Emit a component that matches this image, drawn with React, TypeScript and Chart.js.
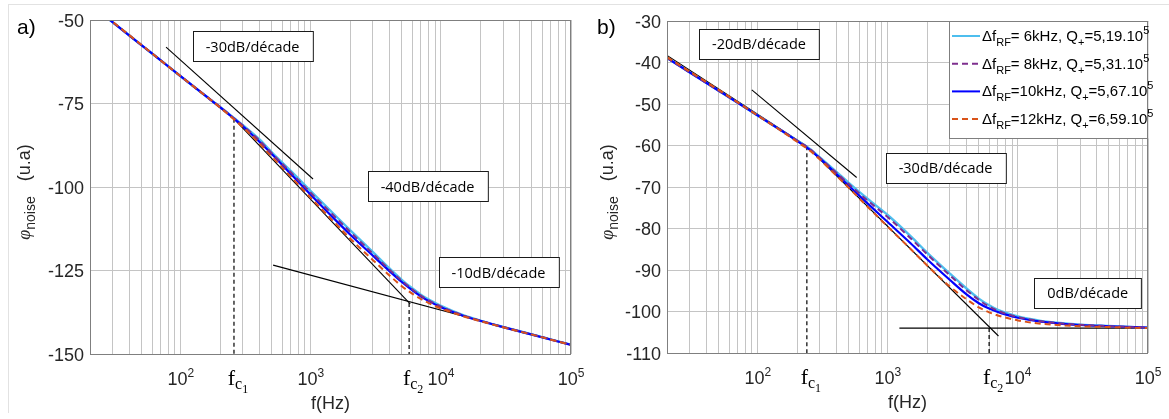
import React, { useEffect, useRef } from "react";
import { Chart, registerables } from "chart.js";
Chart.register(...registerables);

// ---------- data ----------
const freqs = [20, 30, 50, 70, 100, 150, 200, 250, 300, 400, 500, 700, 1000, 1500, 2000, 3000, 4000, 5000, 6000, 7000, 8000, 10000, 15000, 20000, 30000, 50000, 100000];

// panel a)
const a6k = [-45.3, -50.7, -57.6, -62.1, -66.9, -72.3, -76.0, -79.0, -81.5, -85.7, -89.6, -95.2, -101.3, -108.1, -112.9, -119.5, -124.3, -127.8, -130.3, -132.25, -133.65, -135.6, -138.45, -140.0, -141.9, -144.15, -147.2];
const a8k = [-45.3, -50.7, -57.6, -62.1, -66.9, -72.3, -76.0, -79.1, -81.6, -86.0, -89.9, -95.6, -101.8, -108.6, -113.4, -120.0, -124.7, -128.1, -130.6, -132.5, -133.9, -135.8, -138.5, -140.0, -141.9, -144.15, -147.2];
const a10k = [-45.3, -50.7, -57.6, -62.1, -66.9, -72.3, -76.1, -79.2, -81.8, -86.4, -90.1, -96.1, -102.4, -109.4, -114.2, -120.6, -125.1, -128.45, -130.9, -132.75, -134.1, -136.0, -138.6, -140.05, -141.95, -144.2, -147.3];
const a12k = [-45.2, -50.6, -57.5, -62.1, -66.9, -72.3, -76.2, -79.4, -82.1, -86.9, -90.9, -96.9, -103.3, -110.4, -115.4, -121.9, -126.4, -129.7, -131.9, -133.5, -134.7, -136.35, -138.75, -140.15, -142.0, -144.2, -147.3];

// panel b)
const b6k = [-38.9, -42.4, -46.8, -49.7, -52.8, -56.3, -58.8, -60.8, -62.9, -66.3, -69.0, -72.9, -76.8, -81.9, -85.8, -90.9, -94.4, -96.9, -98.5, -99.6, -100.3, -101.2, -102.25, -102.7, -103.15, -103.5, -103.9];
const b8k = [-38.9, -42.4, -46.8, -49.7, -52.8, -56.3, -58.8, -60.8, -63.0, -66.5, -69.3, -73.3, -77.3, -82.4, -86.2, -91.3, -94.8, -97.2, -98.8, -99.8, -100.5, -101.35, -102.35, -102.8, -103.2, -103.55, -103.9];
const b10k = [-38.9, -42.4, -46.8, -49.7, -52.8, -56.3, -58.9, -61.0, -63.1, -66.8, -69.7, -74.0, -78.5, -83.6, -87.4, -92.4, -95.8, -98.0, -99.3, -100.1, -100.7, -101.5, -102.45, -102.85, -103.25, -103.55, -103.9];
const b12k = [-38.7, -42.2, -46.6, -49.6, -52.8, -56.4, -59.1, -61.2, -63.4, -67.2, -70.2, -74.8, -79.6, -85.0, -88.9, -94.0, -97.0, -99.0, -100.2, -100.95, -101.45, -102.15, -102.95, -103.25, -103.55, -103.75, -104.0];

// asymptotes / construction lines  [x1, x2], [y1, y2]
const aLow30X = [20, 256], aLow30Y = [-45.3, -79.6];
const aTangX = [76.9, 1038], aTangY = [-58.1, -97.6];
const aMid40X = [256, 5800], aMid40Y = [-79.6, -135.0];
const aHigh10X = [512, 100000], aHigh10Y = [-123.4, -147.3];
const aFc = [256, 5690];
const aFcY = [-79.6, -134.7];

const bLow20X = [20, 238], bLow20Y = [-38.3, -60.2];
const bTangX = [89.8, 575], bTangY = [-46.6, -67.7];
const bMid30X = [238, 7080], bMid30Y = [-60.2, -105.9];
const bFlatX = [1225, 100000], bFlatY = [-104, -104];
const bFc = [238, 6000];
const bFcY = [-60.2, -104];

// legend
const dfLabels = [" 6kHz", " 8kHz", "10kHz", "12kHz"];
const qLabels = ["5,19", "5,31", "5,67", "6,59"];
const qExp = "5";

// axis ticks
const gridFreqs = [20, 30, 40, 50, 60, 70, 80, 90, 100, 200, 300, 400, 500, 600, 700, 800, 900, 1000, 2000, 3000, 4000, 5000, 6000, 7000, 8000, 9000, 10000, 20000, 30000, 40000, 50000, 60000, 70000, 80000, 90000, 100000];
const decadeTicks = [100, 1000, 10000, 100000];
const decadeExp = ["2", "3", "4", "5"];

// annotations [text, freq, value]
const aNotes: [string, number, number][] = [
  ["-30dB/décade", 356, -57.8],
  ["-40dB/décade", 7890, -99.85],
  ["-10dB/décade", 27700, -125.45],
];
const bNotes: [string, number, number][] = [
  ["-20dB/décade", 102, -35.5],
  ["-30dB/décade", 2775, -65.4],
  ["0dB/décade", 34400, -95.5],
];

// ---------- styles ----------
const C_CYAN = "#4DBEEE";
const C_PURPLE = "#7E2F8E";
const C_BLUE = "#0000FF";
const C_ORANGE = "#D95319";
const SANS = '"Liberation Sans", Arial, sans-serif';
const SERIF = '"Liberation Serif", "Times New Roman", serif';
const BOXFONT = '"Open Sans", sans-serif';
const TXT = "#262626";

type Part = { t: string; size: number; dy?: number; family?: string; style?: string };

function fontOf(p: Part) {
  return `${p.style || ""} ${p.size}px ${p.family || SANS}`.trim();
}
function richWidth(ctx: CanvasRenderingContext2D, parts: Part[]) {
  let w = 0;
  for (const p of parts) {
    ctx.font = fontOf(p);
    w += ctx.measureText(p.t).width;
  }
  return w;
}
function drawRich(ctx: CanvasRenderingContext2D, x: number, y: number, parts: Part[], align: "left" | "center" | "right", color: string) {
  const w = richWidth(ctx, parts);
  let cx = align === "left" ? x : align === "center" ? x - w / 2 : x - w;
  ctx.fillStyle = color;
  ctx.textAlign = "left";
  ctx.textBaseline = "alphabetic";
  for (const p of parts) {
    ctx.font = fontOf(p);
    ctx.fillText(p.t, cx, y + (p.dy || 0));
    cx += ctx.measureText(p.t).width;
  }
}

function pts(xs: number[], ys: number[]) {
  return xs.map((x, i) => ({ x, y: ys[i] }));
}

type Spec = {
  left: number;
  w: number;
  pad: { left: number; top: number; right: number; bottom: number };
  ymin: number;
  ymax: number;
  ystep: number;
  label: string;
  labelX: number;
  ytitleX: number;
  fc: number[];
  fcY: number[];
  notes: [string, number, number][];
  series: number[][];
  lines: { x: number[]; y: number[] }[];
  legend: boolean;
};

const panelA: Spec = {
  left: 0,
  w: 585,
  pad: { left: 90, top: 20, right: 14, bottom: 65 },
  ymin: -150,
  ymax: -50,
  ystep: 25,
  label: "a)",
  labelX: 17,
  ytitleX: 30,
  fc: aFc,
  fcY: aFcY,
  notes: aNotes,
  series: [a6k, a8k, a10k, a12k],
  lines: [
    { x: aLow30X, y: aLow30Y },
    { x: aTangX, y: aTangY },
    { x: aMid40X, y: aMid40Y },
    { x: aHigh10X, y: aHigh10Y },
  ],
  legend: false,
};

const panelB: Spec = {
  left: 585,
  w: 584,
  pad: { left: 82, top: 21, right: 21, bottom: 66 },
  ymin: -110,
  ymax: -30,
  ystep: 10,
  label: "b)",
  labelX: 12,
  ytitleX: 28,
  fc: bFc,
  fcY: bFcY,
  notes: bNotes,
  series: [b6k, b8k, b10k, b12k],
  lines: [
    { x: bLow20X, y: bLow20Y },
    { x: bTangX, y: bTangY },
    { x: bMid30X, y: bMid30Y },
    { x: bFlatX, y: bFlatY },
  ],
  legend: true,
};

function buildConfig(spec: Spec): any {
  const [s6, s8, s10, s12] = spec.series;
  const datasets: any[] = [
    { data: pts(freqs, s12), borderColor: C_ORANGE, borderWidth: 2, borderDash: [6, 4], cubicInterpolationMode: "monotone" },
    { data: pts(freqs, s8), borderColor: C_PURPLE, borderWidth: 2, borderDash: [6, 4], cubicInterpolationMode: "monotone" },
    { data: pts(freqs, s10), borderColor: C_BLUE, borderWidth: 2.2, cubicInterpolationMode: "monotone" },
    { data: pts(freqs, s6), borderColor: C_CYAN, borderWidth: 2.4, cubicInterpolationMode: "monotone" },
  ];
  for (const l of spec.lines) {
    datasets.push({ data: pts(l.x, l.y), borderColor: "#000", borderWidth: 1.1 });
  }
  spec.fc.forEach((f, i) => {
    datasets.push({ data: pts([f, f], [spec.fcY[i], spec.ymin]), borderColor: "#000", borderWidth: 1.2, borderDash: [4, 3] });
  });

  const plugin = {
    id: "matlabText",
    afterDraw(chart: any) {
      const ctx: CanvasRenderingContext2D = chart.ctx;
      const ca = chart.chartArea;
      const xs = chart.scales.x;
      const ys = chart.scales.y;
      ctx.save();
      // box
      const L = Math.round(ca.left), T = Math.round(ca.top), R = Math.round(ca.right), B = Math.round(ca.bottom);
      ctx.strokeStyle = "#7f7f7f";
      ctx.lineWidth = 1;
      ctx.strokeRect(L + 0.5, T + 0.5, R - L - 1, B - T);
      // y tick labels
      for (let v = spec.ymin; v <= spec.ymax + 1e-9; v += spec.ystep) {
        const py = ys.getPixelForValue(v);
        drawRich(ctx, L - 6, py + 6.5, [{ t: String(v), size: 18 }], "right", TXT);
      }
      // x decade labels
      decadeTicks.forEach((d, i) => {
        const px = xs.getPixelForValue(d);
        drawRich(ctx, px, B + 31, [{ t: "10", size: 18 }, { t: decadeExp[i], size: 12, dy: -8 }], "center", TXT);
      });
      // fc labels
      spec.fc.forEach((f, i) => {
        const px = xs.getPixelForValue(f);
        drawRich(
          ctx,
          px + 4,
          B + 31,
          [
            { t: "f", size: 22, family: SERIF },
            { t: "c", size: 16, dy: 4, family: SERIF },
            { t: String(i + 1), size: 12, dy: 8, family: SERIF },
          ],
          "center",
          "#000"
        );
      });
      // x title
      drawRich(ctx, (L + R) / 2, B + 55, [{ t: "f(Hz)", size: 18 }], "center", TXT);
      // y title
      ctx.save();
      ctx.translate(spec.ytitleX, (T + B) / 2 + 5);
      ctx.rotate(-Math.PI / 2);
      drawRich(
        ctx,
        0,
        0,
        [
          { t: "φ", size: 18, style: "italic", family: SERIF },
          { t: "noise", size: 14, dy: 5 },
          { t: "   (u.a)", size: 18 },
        ],
        "center",
        TXT
      );
      ctx.restore();
      // panel label
      drawRich(ctx, spec.labelX, 34, [{ t: spec.label, size: 21 }], "left", "#000");
      // annotation boxes
      for (const [text, f, v] of spec.notes) {
        const px = xs.getPixelForValue(f);
        const py = ys.getPixelForValue(v);
        const parts = [{ t: text, size: 14.5, family: BOXFONT }];
        const w = richWidth(ctx, parts) + 26;
        const h = 30;
        const x0 = Math.round(px - w / 2) + 0.5, y0 = Math.round(py - h / 2) + 0.5;
        ctx.fillStyle = "#fff";
        ctx.fillRect(x0, y0, w, h);
        ctx.strokeStyle = "#1a1a1a";
        ctx.lineWidth = 1;
        ctx.strokeRect(x0, y0, w, h);
        drawRich(ctx, px, py + 5.5, parts, "center", "#000");
      }
      // legend
      if (spec.legend) {
        const lw = 199, lh = 117;
        const lx = R - lw, ly = T;
        ctx.fillStyle = "#fff";
        ctx.fillRect(lx + 0.5, ly + 0.5, lw, lh);
        ctx.strokeStyle = "#7f7f7f";
        ctx.strokeRect(lx + 0.5, ly + 0.5, lw - 1, lh);
        const colors = [C_CYAN, C_PURPLE, C_BLUE, C_ORANGE];
        const dashes = [[], [6, 4], [], [6, 4]];
        for (let i = 0; i < 4; i++) {
          const cy = ly + 15 + i * 27.7;
          ctx.strokeStyle = colors[i];
          ctx.lineWidth = 2;
          ctx.setLineDash(dashes[i]);
          ctx.beginPath();
          ctx.moveTo(lx + 3, cy);
          ctx.lineTo(lx + 31, cy);
          ctx.stroke();
          ctx.setLineDash([]);
          drawRich(
            ctx,
            lx + 33,
            cy + 5,
            [
              { t: "Δf", size: 15 },
              { t: "RF", size: 11, dy: 5 },
              { t: "=" + dfLabels[i] + ", Q", size: 15 },
              { t: "+", size: 11, dy: 5 },
              { t: "=" + qLabels[i] + ".10", size: 15 },
              { t: qExp, size: 11, dy: -7 },
            ],
            "left",
            "#000"
          );
        }
      }
      ctx.restore();
    },
  };

  return {
    type: "line",
    data: { datasets },
    options: {
      animation: false,
      responsive: false,
      maintainAspectRatio: false,
      parsing: true,
      layout: { padding: spec.pad },
      elements: { point: { radius: 0 }, line: { tension: 0 } },
      plugins: { legend: { display: false }, tooltip: { enabled: false }, title: { display: false } },
      scales: {
        x: {
          type: "logarithmic",
          min: 20,
          max: 100000,
          afterBuildTicks: (axis: any) => {
            axis.ticks = gridFreqs.map((v) => ({ value: v }));
          },
          ticks: { display: false },
          grid: { color: "#c4c4c4", lineWidth: 1, drawTicks: false },
          border: { display: false },
        },
        y: {
          type: "linear",
          min: spec.ymin,
          max: spec.ymax,
          ticks: { display: false, stepSize: spec.ystep },
          grid: { color: "#c4c4c4", lineWidth: 1, drawTicks: false },
          border: { display: false },
        },
      },
    },
    plugins: [plugin],
  };
}

function Panel({ spec }: { spec: Spec }) {
  const ref = useRef<HTMLCanvasElement>(null);
  useEffect(() => {
    const chart = new Chart(ref.current as HTMLCanvasElement, buildConfig(spec));
    return () => chart.destroy();
  }, [spec]);
  return (
    <canvas
      ref={ref}
      width={spec.w}
      height={419}
      style={{ position: "absolute", left: spec.left, top: 0, width: spec.w, height: 419 }}
    />
  );
}

export default function App() {
  return (
    <div style={{ position: "fixed", left: 0, top: 0, width: 1169, height: 419, background: "#fff", overflow: "hidden" }}>
      <div
        style={{
          position: "absolute",
          left: 8,
          top: 4,
          width: 1200,
          height: 408,
          borderTop: "1px solid #e2e2e2",
          borderLeft: "1px solid #e2e2e2",
        }}
      />
      <Panel spec={panelA} />
      <Panel spec={panelB} />
    </div>
  );
}
